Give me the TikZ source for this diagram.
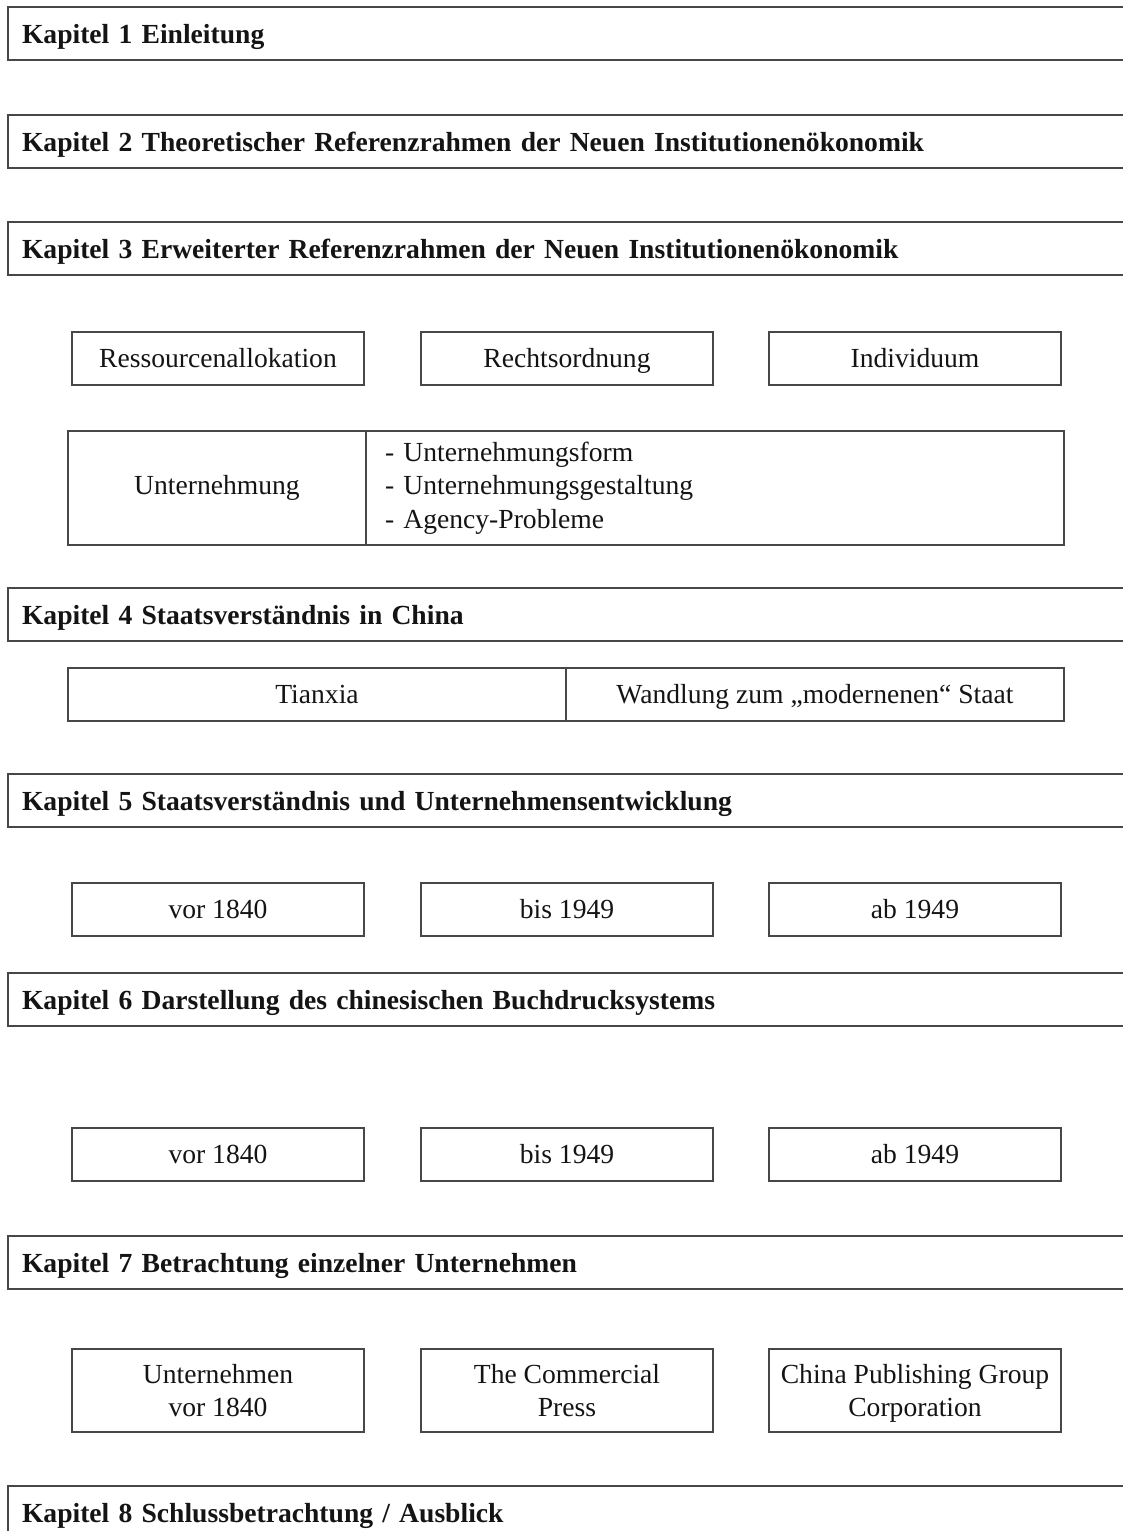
\documentclass[tikz,border=0pt]{standalone}
\usepackage{fontspec}
\setmainfont{Liberation Serif}
\begin{document}
\begin{tikzpicture}[x=1pt,y=-1pt,
  frame/.style={draw=black!72, line width=1.3pt, outer sep=0pt, text=black!92},
  chapter/.style={frame, anchor=north west, inner xsep=14pt, inner ysep=0pt,
    text width=1100pt, align=left, font=\bfseries\fontsize{27.6}{34}\selectfont,
    minimum height=53pt, text height=22pt, text depth=3pt},
  cell/.style={frame, anchor=north west, inner sep=0pt, align=center,
    font=\fontsize{27.6}{33.5}\selectfont},
  oneline/.style={text height=18.5pt, text depth=0pt, minimum height=53pt},
  twoline/.style={text height=52pt, text depth=0pt, minimum height=83pt},
  third/.style={cell, oneline, minimum width=292pt},
  thirdtwo/.style={cell, twoline, minimum width=292pt},
]
\useasboundingbox (0,0) rectangle (1122,1531);

% chapter bars, open towards the right margin
\node[chapter] (k1) at (8,7)    {Kapitel 1 Einleitung};
\node[chapter] (k2) at (8,115)  {Kapitel 2 Theoretischer Referenzrahmen der Neuen Institutionenökonomik};
\node[chapter] (k3) at (8,222)  {Kapitel 3 Erweiterter Referenzrahmen der Neuen Institutionenökonomik};
\node[chapter] (k4) at (8,588)  {Kapitel 4 Staatsverständnis in China};
\node[chapter] (k5) at (8,774)  {Kapitel 5 Staatsverständnis und Unternehmensentwicklung};
\node[chapter] (k6) at (8,973)  {Kapitel 6 Darstellung des chinesischen Buchdrucksystems};
\node[chapter] (k7) at (8,1236) {Kapitel 7 Betrachtung einzelner Unternehmen};
\node[chapter] (k8) at (8,1486) {Kapitel 8 Schlussbetrachtung / Ausblick};

% chapter 3
\node[third] (ressourcen) at (72,332)  {Ressourcenallokation};
\node[third] (recht)      at (421,332) {Rechtsordnung};
\node[third] (individuum) at (769,332) {Individuum};
\node[cell, minimum width=298pt, minimum height=114pt] (unt) at (68,431) {Unternehmung};
\node[cell, minimum width=698pt, minimum height=114pt, text width=660pt,
      inner xsep=19pt, align=left] (untlist) at (366,431)
  {- Unternehmungsform\\- Unternehmungsgestaltung\\- Agency-Probleme};

% chapter 4
\node[cell, oneline, minimum width=498pt] (tianxia) at (68,668) {Tianxia};
\node[cell, oneline, minimum width=498pt] (wandlung) at (566,668) {Wandlung zum „modernenen“ Staat};

% chapter 5
\node[third] (a1) at (72,883)  {vor 1840};
\node[third] (a2) at (421,883) {bis 1949};
\node[third] (a3) at (769,883) {ab 1949};

% chapter 6
\node[third] (b1) at (72,1128)  {vor 1840};
\node[third] (b2) at (421,1128) {bis 1949};
\node[third] (b3) at (769,1128) {ab 1949};

% chapter 7
\node[thirdtwo] (c1) at (72,1349)  {Unternehmen\\vor 1840};
\node[thirdtwo] (c2) at (421,1349) {The Commercial\\Press};
\node[thirdtwo] (c3) at (769,1349) {China Publishing Group\\Corporation};
\end{tikzpicture}
\end{document}
